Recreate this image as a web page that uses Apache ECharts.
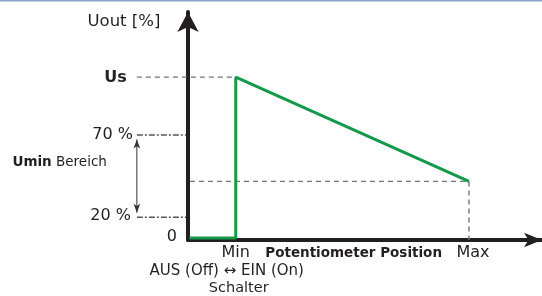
<!DOCTYPE html>
<html>
<head>
<meta charset="utf-8">
<script src="https://cdn.jsdelivr.net/npm/echarts@6/dist/echarts.min.js"></script>
<style>
html,body{margin:0;padding:0;background:#fff;}
#c{width:542px;height:296px;}
</style>
</head>
<body>
<div id="c"></div>
<script>
// ---- data (schematic units; Us = 100, Max position = 100) ----
const curveX = [0.5, 17, 17, 100];
const curveY = [1.2, 1.2, 100, 36];
const xTickValues = [17, 100];
const xTickLabels = ['Min', 'Max'];
const yTickValues = [0, 14, 64.5, 100];
const yTickLabels = ['0', '20 %', '70 %', 'Us'];
const guideX = -18.2;          // column of the Umin range marker
const maxLevel = 36;           // output level at Max position
const xAxisMax = 126;
const yAxisMax = 140;
const annoXMin = -20;
const yTitle = 'Uout [%]';
const xTitle = 'Potentiometer Position';
const rangeLabelBold = 'Umin';
const rangeLabelRest = ' Bereich';
const switchLabel = 'AUS (Off) \u2194 EIN (On)';
const switchTitle = 'Schalter';

const FONT = 'DejaVu Sans';
const TXT = '#231f20';
const AXIS = '#231f20';
const GREEN = '#14994a';
const GREY = '#737373';

const chart = echarts.init(document.getElementById('c'), null, {renderer: 'canvas'});

const pairs = (xs, ys) => xs.map((x, i) => [x, ys[i]]);

function lab(value, label) {
  return {value: value, label: Object.assign({show: true, color: TXT, fontFamily: FONT, fontSize: 16}, label)};
}

const labels = [
  lab([-22.8, 133.9], {formatter: yTitle, position: 'inside', fontSize: 16.5}),
  lab([guideX, yTickValues[3]], {formatter: yTickLabels[3], position: 'left', distance: 10, fontWeight: 'bold', offset: [0, 1]}),
  lab([guideX, yTickValues[2]], {formatter: yTickLabels[2], position: 'left', distance: 4}),
  lab([guideX, yTickValues[1]], {formatter: yTickLabels[1], position: 'left', distance: 6, offset: [0, -1]}),
  lab([0, yTickValues[0]], {formatter: yTickLabels[0], position: 'left', distance: 11, offset: [0, -3]}),
  lab([guideX, 47.3], {formatter: '{b|' + rangeLabelBold + '}{n|' + rangeLabelRest + '}', position: 'left', distance: 30,
       rich: {b: {fontWeight: 'bold', fontSize: 13.5, fontFamily: FONT, color: TXT}, n: {fontSize: 13.5, fontFamily: FONT, color: TXT}}}),
  lab([xTickValues[0], 0], {formatter: xTickLabels[0], position: 'bottom', distance: 5}),
  lab([xTickValues[1], 0], {formatter: xTickLabels[1], position: 'bottom', distance: 5, offset: [4, 0]}),
  lab([27.5, 0], {formatter: xTitle, position: [0, 6], align: 'left', verticalAlign: 'top', fontWeight: 'bold', fontSize: 13.5}),
  lab([xTickValues[0], 0], {formatter: switchLabel, position: 'bottom', distance: 24, offset: [-9, 0], fontSize: 15}),
  lab([xTickValues[0], 0], {formatter: switchTitle, position: 'bottom', distance: 41, offset: [3, 0], fontSize: 14.5})
];

const hiddenAxis = {axisLine: {show: false}, axisTick: {show: false}, axisLabel: {show: false}, splitLine: {show: false}};
const arrowLen = 9;
const pxPerY = 228 / yAxisMax;

const anno = {xAxisIndex: 1, yAxisIndex: 1, type: 'line', clip: false, silent: true, symbol: 'none', z: 3};

const option = {
  animation: false,
  backgroundColor: '#fff',
  graphic: [{type: 'rect', left: 0, top: 0, shape: {width: 542, height: 1.5}, style: {fill: '#8fa4cb'}, silent: true}],
  grid: [
    {left: 188, right: 0, top: 12, bottom: 56, containLabel: false},
    {left: 188 + annoXMin * (354 / xAxisMax), right: 0, top: 12, bottom: 56, containLabel: false}
  ],
  xAxis: [
    {type: 'value', min: 0, max: xAxisMax, gridIndex: 0,
     axisLine: {show: true, onZero: false, symbol: ['none', 'arrow'], symbolSize: [11, 18], lineStyle: {color: AXIS, width: 4}},
     axisTick: {show: false}, axisLabel: {show: false}, splitLine: {show: false}},
    Object.assign({type: 'value', min: annoXMin, max: xAxisMax, gridIndex: 1}, hiddenAxis)
  ],
  yAxis: [
    {type: 'value', min: 0, max: yAxisMax, gridIndex: 0,
     axisLine: {show: true, onZero: false, symbol: ['none', 'arrow'], symbolSize: [16, 20], lineStyle: {color: AXIS, width: 4}},
     axisTick: {show: false}, axisLabel: {show: false}, splitLine: {show: false}},
    Object.assign({type: 'value', min: 0, max: yAxisMax, gridIndex: 1}, hiddenAxis)
  ],
  series: [
    Object.assign({}, anno, {lineStyle: {color: GREY, width: 1.4, type: [5, 4]},
     data: [[guideX, yTickValues[3]], [xTickValues[0], yTickValues[3]]]}),
    Object.assign({}, anno, {lineStyle: {color: GREY, width: 1.4, type: [5, 4]},
     data: [[0.7, maxLevel], [xTickValues[1], maxLevel], [xTickValues[1], 0]]}),
    Object.assign({}, anno, {lineStyle: {color: '#555', width: 1.5, type: [6, 2, 2, 2]},
     data: [[guideX, yTickValues[2]], [-0.7, yTickValues[2]]]}),
    Object.assign({}, anno, {lineStyle: {color: '#555', width: 1.5, type: [6, 2, 2, 2]},
     data: [[guideX, yTickValues[1]], [-0.7, yTickValues[1]]]}),
    Object.assign({}, anno, {z: 4, symbol: 'arrow', showSymbol: true, showAllSymbol: true,
     lineStyle: {color: '#333', width: 1},
     itemStyle: {color: '#333', opacity: 1},
     data: [
       {value: [guideX, yTickValues[2] - arrowLen / 2 / pxPerY], symbol: 'arrow', symbolSize: [5, arrowLen], symbolRotate: 0},
       {value: [guideX, yTickValues[1] + arrowLen / 2 / pxPerY], symbol: 'arrow', symbolSize: [5, arrowLen], symbolRotate: 180}
     ]}),
    {type: 'line', clip: false, silent: true, symbol: 'none', z: 6,
     lineStyle: {color: GREEN, width: 3},
     data: pairs(curveX, curveY)},
    {type: 'scatter', xAxisIndex: 1, yAxisIndex: 1, clip: false, silent: true, symbolSize: 0, z: 7,
     itemStyle: {color: 'transparent', opacity: 1},
     data: labels}
  ]
};
chart.setOption(option);
</script>
</body>
</html>
